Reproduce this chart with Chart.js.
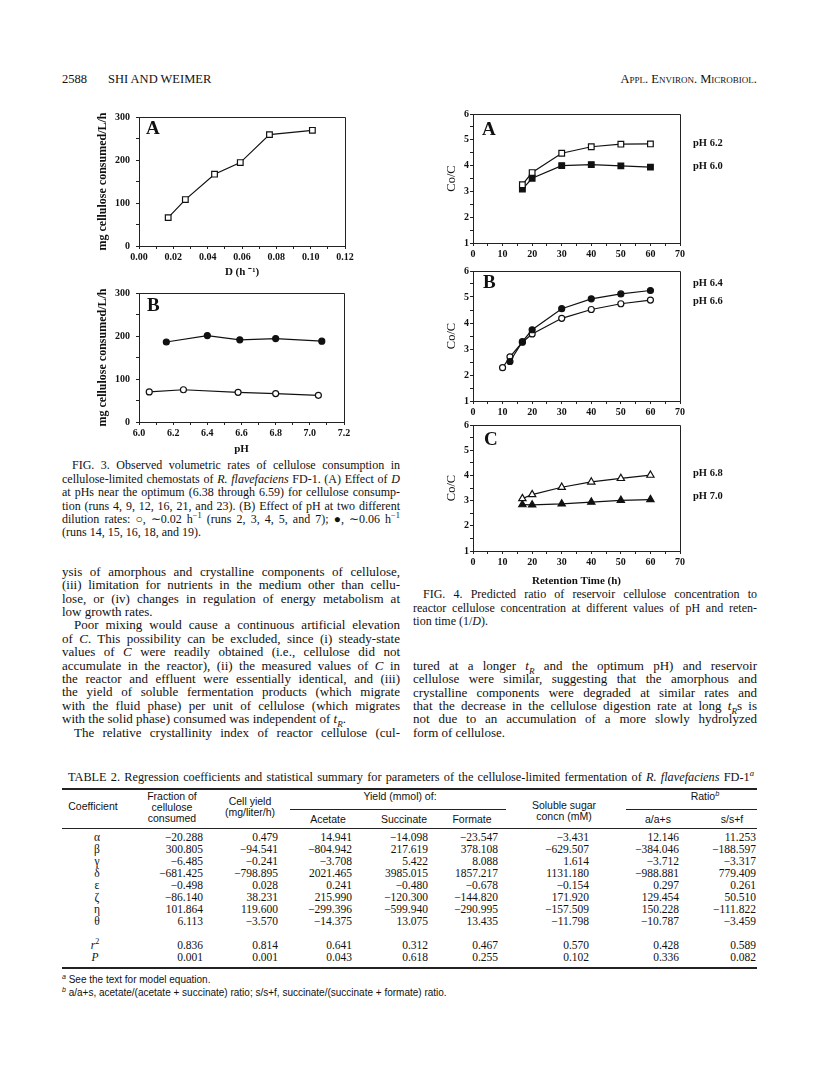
<!DOCTYPE html>
<html><head><meta charset="utf-8">
<script src="https://cdn.jsdelivr.net/npm/chart.js@4.4.0/dist/chart.umd.min.js"></script>
<style>
html,body{margin:0;padding:0;background:#fff;}
#page{position:relative;width:816px;height:1075px;overflow:hidden;background:#fff;font-family:"Liberation Serif","Times New Roman",serif;color:#111;}
.ln{position:absolute;white-space:nowrap;line-height:1;}
.ln sup,.ln sub{font-size:0.7em;line-height:0;}
.rule{position:absolute;background:#222;}
canvas{position:absolute;}
</style></head><body><div id="page"></div>
<script>
// ---------------- DATA ----------------
// Fig. 3A: dilution rate vs cellulose consumed
const fig3aDilution = [0.017, 0.027, 0.044, 0.059, 0.076, 0.101];
const fig3aRate     = [66, 108, 167, 194, 259, 269];
// Fig. 3B: pH effect at two dilution rates
const fig3bPhLowD    = [6.06, 6.26, 6.58, 6.80, 7.05];   // open circles, ~0.02 h-1
const fig3bRateLowD  = [70, 75, 69, 66, 62];
const fig3bPhHighD   = [6.16, 6.40, 6.59, 6.80, 7.07];   // filled circles, ~0.06 h-1
const fig3bRateHighD = [186, 201, 191, 194, 188];
// Fig. 4: Co/C vs retention time
const fig4Time      = [16.7, 20, 30, 40, 50, 60];
const fig4aPh62     = [3.26, 3.73, 4.48, 4.73, 4.83, 4.84];
const fig4aPh60     = [3.09, 3.51, 4.00, 4.04, 3.99, 3.94];
const fig4bTime64   = [12.5, 16.7, 20, 30, 40, 50, 60];
const fig4bPh64     = [2.52, 3.28, 3.74, 4.55, 4.93, 5.12, 5.25];
const fig4bTime66   = [10, 12.5, 16.7, 20, 30, 40, 50, 60];
const fig4bPh66     = [2.28, 2.70, 3.26, 3.58, 4.18, 4.52, 4.74, 4.88];
const fig4cPh68     = [3.08, 3.24, 3.53, 3.74, 3.88, 4.01];
const fig4cPh70     = [2.84, 2.83, 2.87, 2.94, 3.01, 3.04];
const fig4aNames = ['pH 6.2', 'pH 6.0'];
const fig4bNames = ['pH 6.4', 'pH 6.6'];
const fig4cNames = ['pH 6.8', 'pH 7.0'];
const panelLetters = ['A', 'B', 'A', 'B', 'C'];
const fig3YTitle = 'mg cellulose consumed/L/h';
const fig3aXTitle = 'D (h \u207B\u00B9)';
const fig3bXTitle = 'pH';
const fig4YTitle = 'Co/C';
const fig4XTitle = 'Retention Time (h)';

// Table 2
const tableCoef      = ['α','β','γ','δ','ε','ζ','η','θ','<i>r</i><sup>2</sup>','<i>P</i>'];
const tableFraction  = ['−20.288','300.805','−6.485','−681.425','−0.498','−86.140','101.864','6.113','0.836','0.001'];
const tableCellYield = ['0.479','−94.541','−0.241','−798.895','0.028','38.231','119.600','−3.570','0.814','0.001'];
const tableAcetate   = ['14.941','−804.942','−3.708','2021.465','0.241','215.990','−299.396','−14.375','0.641','0.043'];
const tableSuccinate = ['−14.098','217.619','5.422','3985.015','−0.480','−120.300','−599.940','13.075','0.312','0.618'];
const tableFormate   = ['−23.547','378.108','8.088','1857.217','−0.678','−144.820','−290.995','13.435','0.467','0.255'];
const tableSugar     = ['−3.431','−629.507','1.614','1131.180','−0.154','171.920','−157.509','−11.798','0.570','0.102'];
const tableRatioAS   = ['12.146','−384.046','−3.712','−988.881','0.297','129.454','150.228','−10.787','0.428','0.336'];
const tableRatioSF   = ['11.253','−188.597','−3.317','779.409','0.261','50.510','−111.822','−3.459','0.589','0.082'];

// ---------------- PAGE TEXT HELPERS ----------------
const page = document.getElementById('page');
const SERIF = '"Liberation Serif","Times New Roman",serif';
const NARROW = '"Liberation Sans Narrow","Arial Narrow","Liberation Sans",sans-serif';
function addText(html, x, y, fs, o) {
  o = o || {};
  const d = document.createElement('div');
  d.className = 'ln';
  d.innerHTML = html;
  d.style.fontSize = fs + 'px';
  if (o.family) d.style.fontFamily = o.family;
  if (o.bold) d.style.fontWeight = 'bold';
  if (o.sc) d.style.fontVariant = 'small-caps';
  if (o.ls) d.style.letterSpacing = o.ls + 'px';
  d.style.top = (y - 0.55 * fs) + 'px';
  d.style.left = '0px';
  page.appendChild(d);
  const w = d.getBoundingClientRect().width;
  if (o.justify) {
    const n = (d.textContent.match(/ /g) || []).length;
    if (n) d.style.wordSpacing = ((o.justify - w) / n) + 'px';
    d.style.left = x + 'px';
  } else if (o.align === 'right') d.style.left = (x - w) + 'px';
  else if (o.align === 'center') d.style.left = (x - w / 2) + 'px';
  else d.style.left = x + 'px';
  return d;
}
function rule(x1, x2, y, h) {
  const r = document.createElement('div');
  r.className = 'rule';
  r.style.left = x1 + 'px'; r.style.width = (x2 - x1) + 'px';
  r.style.top = y + 'px'; r.style.height = (h || 1) + 'px';
  page.appendChild(r);
}
function paragraph(lines, x, w, y0, dy, fs, indent) {
  lines.forEach((l, i) => {
    const txt = typeof l === 'string' ? l : l.t;
    const last = typeof l !== 'string' && l.last;
    const ind = (typeof l !== 'string' && l.indent) ? indent : 0;
    addText(txt, x + ind, y0 + i * dy, fs, last ? {} : {justify: w - ind});
  });
}

// Running head
addText('2588', 62, 80, 12.5);
addText('SHI AND WEIMER', 108, 80, 12.5);
addText('Appl. Environ. Microbiol.', 757, 80, 12.5, {sc: true, align: 'right'});

// Fig 3 caption
paragraph([
  {t: 'FIG. 3. Observed volumetric rates of cellulose consumption in', indent: true},
  'cellulose-limited chemostats of <i>R. flavefaciens</i> FD-1. (A) Effect of <i>D</i>',
  'at pHs near the optimum (6.38 through 6.59) for cellulose consump-',
  'tion (runs 4, 9, 12, 16, 21, and 23). (B) Effect of pH at two different',
  'dilution rates: ○, ∼0.02 h<sup>−1</sup> (runs 2, 3, 4, 5, and 7); ●, ∼0.06 h<sup>−1</sup>',
  {t: '(runs 14, 15, 16, 18, and 19).', last: true}
], 62, 338, 466, 13.4, 12, 10);

// Left body text
paragraph([
  'ysis of amorphous and crystalline components of cellulose,',
  '(iii) limitation for nutrients in the medium other than cellu-',
  'lose, or (iv) changes in regulation of energy metabolism at',
  {t: 'low growth rates.', last: true},
  {t: 'Poor mixing would cause a continuous artificial elevation', indent: true},
  'of <i>C</i>. This possibility can be excluded, since (i) steady-state',
  'values of <i>C</i> were readily obtained (i.e., cellulose did not',
  'accumulate in the reactor), (ii) the measured values of <i>C</i> in',
  'the reactor and effluent were essentially identical, and (iii)',
  'the yield of soluble fermentation products (which migrate',
  'with the fluid phase) per unit of cellulose (which migrates',
  {t: 'with the solid phase) consumed was independent of <i>t<sub>R</sub></i>.', last: true},
  {t: 'The relative crystallinity index of reactor cellulose (cul-', indent: true}
], 62, 338, 572, 13.4, 13, 12);

// Fig 4 caption
paragraph([
  {t: 'FIG. 4. Predicted ratio of reservoir cellulose concentration to', indent: true},
  'reactor cellulose concentration at different values of pH and reten-',
  {t: 'tion time (1/<i>D</i>).', last: true}
], 413, 344, 595, 13.4, 12, 10);

// Right body text
paragraph([
  'tured at a longer <i>t<sub>R</sub></i> and the optimum pH) and reservoir',
  'cellulose were similar, suggesting that the amorphous and',
  'crystalline components were degraded at similar rates and',
  'that the decrease in the cellulose digestion rate at long <i>t<sub>R</sub></i>s is',
  'not due to an accumulation of a more slowly hydrolyzed',
  {t: 'form of cellulose.', last: true}
], 413, 344, 666, 13.4, 13, 12);

// Table 2
addText('TABLE 2. Regression coefficients and statistical summary for parameters of the cellulose-limited fermentation of <i>R. flavefaciens</i> FD-1<sup><i>a</i></sup>', 68, 778, 12.3, {justify: 686});
rule(62, 757, 788, 1.5);
const hf = 10.5;
addText('Coefficient', 93, 807, hf, {family: NARROW, align: 'center'});
addText('Fraction of', 172, 797, hf, {family: NARROW, align: 'center'});
addText('cellulose', 172, 808, hf, {family: NARROW, align: 'center'});
addText('consumed', 172, 819, hf, {family: NARROW, align: 'center'});
addText('Cell yield', 250, 802, hf, {family: NARROW, align: 'center'});
addText('(mg/liter/h)', 250, 813, hf, {family: NARROW, align: 'center'});
addText('Yield (mmol) of:', 400, 797, hf, {family: NARROW, align: 'center'});
rule(290, 506, 809, 1);
addText('Acetate', 328, 820, hf, {family: NARROW, align: 'center'});
addText('Succinate', 404, 820, hf, {family: NARROW, align: 'center'});
addText('Formate', 472, 820, hf, {family: NARROW, align: 'center'});
addText('Soluble sugar', 564, 806, hf, {family: NARROW, align: 'center'});
addText('concn (mM)', 564, 817, hf, {family: NARROW, align: 'center'});
addText('Ratio<sup><i>b</i></sup>', 705, 797, hf, {family: NARROW, align: 'center'});
rule(626, 757, 809, 1);
addText('a/a+s', 658, 820, hf, {family: NARROW, align: 'center'});
addText('s/s+f', 732, 820, hf, {family: NARROW, align: 'center'});
rule(62, 757, 828, 1);
const colRight = [203, 278, 352, 428, 498, 589, 679, 756];
const cols = [tableFraction, tableCellYield, tableAcetate, tableSuccinate, tableFormate, tableSugar, tableRatioAS, tableRatioSF];
const rowY = [838, 850, 862, 874, 886, 898, 910, 922, 946, 958];
tableCoef.forEach((c, i) => {
  addText(c, i < 8 ? 97 : 95, rowY[i], 11.5, {align: 'center'});
  cols.forEach((col, j) => addText(col[i], colRight[j], rowY[i], 11.5, {align: 'right'}));
});
rule(62, 757, 967, 1.5);
addText('<sup><i>a</i></sup> See the text for model equation.', 62, 980, 10, {family: NARROW});
addText('<sup><i>b</i></sup> a/a+s, acetate/(acetate + succinate) ratio; s/s+f, succinate/(succinate + formate) ratio.', 62, 993, 10, {family: NARROW});

// ---------------- CHARTS ----------------
Chart.defaults.font.family = SERIF;
Chart.defaults.color = '#111';
Chart.defaults.animation = false;

const annotPlugin = {
  id: 'annot',
  beforeDatasetsDraw(chart) {
    const {ctx, chartArea: a} = chart;
    ctx.save();
    ctx.strokeStyle = '#222'; ctx.lineWidth = 1;
    ctx.beginPath();
    ctx.moveTo(Math.round(a.left) + 0.5, Math.round(a.top) + 0.5);
    ctx.lineTo(Math.round(a.right) + 0.5, Math.round(a.top) + 0.5);
    ctx.lineTo(Math.round(a.right) + 0.5, Math.round(a.bottom) + 0.5);
    ctx.stroke();
    ctx.restore();
  },
  afterDraw(chart, args, opts) {
    const {ctx, chartArea: a, scales} = chart;
    ctx.save();
    ctx.fillStyle = '#111'; ctx.textBaseline = 'middle'; ctx.textAlign = 'left';
    if (opts.letter) {
      ctx.font = 'bold 19px ' + SERIF;
      ctx.fillText(opts.letter, a.left + opts.letterDx, a.top + opts.letterDy);
    }
    (opts.labels || []).forEach(l => {
      ctx.font = 'bold 10.5px ' + SERIF;
      ctx.fillText(l.text, a.right + opts.labelDx, scales.y.getPixelForValue(l.at));
    });
    ctx.restore();
  }
};

const tickFont = {family: SERIF, weight: 'bold', size: 10};
function axis(min, max, step, fmt, pad, title) {
  const o = {
    type: 'linear', min: min, max: max,
    ticks: {stepSize: step, autoSkip: false, maxRotation: 0, minRotation: 0, color: '#111', font: tickFont, padding: pad, callback: fmt},
    grid: {drawOnChartArea: false, drawTicks: true, tickLength: 3, color: '#222', lineWidth: 1},
    border: {display: true, color: '#222', width: 1}
  };
  if (title) o.title = Object.assign({display: true, color: '#111'}, title);
  return o;
}
function series(xs, ys, style, r, filled) {
  return {
    data: xs.map((x, i) => ({x: x, y: ys[i]})),
    borderColor: '#111', borderWidth: 1.2, tension: 0, fill: false, clip: false,
    pointStyle: style, pointRadius: r, pointHoverRadius: r,
    pointBackgroundColor: filled ? '#111' : '#fff', pointBorderColor: '#111', pointBorderWidth: 1.2
  };
}
function makeChart(area, m, datasets, xAxis, yAxis, annot) {
  const c = document.createElement('canvas');
  const W = m.left + (area.R - area.L) + m.right;
  const H = m.top + (area.B - area.T) + m.bottom;
  c.width = W; c.height = H;
  c.style.left = (area.L - m.left) + 'px'; c.style.top = (area.T - m.top) + 'px';
  c.style.width = W + 'px'; c.style.height = H + 'px';
  page.appendChild(c);
  xAxis.afterFit = s => { s.height = m.bottom; };
  yAxis.afterFit = s => { s.width = m.left; };
  return new Chart(c, {
    type: 'line',
    data: {datasets: datasets},
    plugins: [annotPlugin],
    options: {
      responsive: false, animation: false, devicePixelRatio: 1,
      layout: {padding: {left: 0, top: m.top, right: m.right, bottom: 0}},
      scales: {x: xAxis, y: yAxis},
      plugins: {legend: {display: false}, tooltip: {enabled: false}, annot: annot}
    }
  });
}

const fmtEvery = (mult, major, dec) => v => {
  const k = Math.round(v * mult);
  return k % major === 0 ? (k / mult).toFixed(dec) : '';
};
const fig3Title = {text: fig3YTitle, font: {family: SERIF, weight: 'bold', size: 12}, padding: {top: 5.5, bottom: 0}};
const fig4Title = {text: fig4YTitle, font: {family: SERIF, size: 12.5}, padding: {top: 4.5, bottom: 0}};

// Fig 3A
makeChart({L: 139, R: 345, T: 113, B: 246}, {left: 49, top: 8, right: 16, bottom: 33},
  [series(fig3aDilution, fig3aRate, 'rect', 4, false)],
  axis(0, 0.12, 0.01, fmtEvery(100, 2, 2), 2, {text: fig3aXTitle, font: {family: SERIF, weight: 'bold', size: 11}, padding: {top: 0, bottom: 0}}),
  axis(0, 300, 50, fmtEvery(1, 100, 0), 6, fig3Title),
  {letter: panelLetters[0], letterDx: 7, letterDy: 12});

// Fig 3B
makeChart({L: 139, R: 344, T: 289, B: 422}, {left: 49, top: 8, right: 16, bottom: 34},
  [series(fig3bPhHighD, fig3bRateHighD, 'circle', 3, true),
   series(fig3bPhLowD, fig3bRateLowD, 'circle', 3, false)],
  axis(6.0, 7.2, 0.1, fmtEvery(10, 2, 1), 2, {text: fig3bXTitle, font: {family: SERIF, weight: 'bold', size: 11}, padding: {top: 0, bottom: 0}}),
  axis(0, 300, 50, fmtEvery(1, 100, 0), 6, fig3Title),
  {letter: panelLetters[1], letterDx: 8, letterDy: 13});

const fig4Y = () => axis(1, 6, 0.5, fmtEvery(2, 2, 0), 1, fig4Title);
const fig4X = (t) => axis(0, 70, 5, fmtEvery(1, 10, 0), 2, t);

// Fig 4A
makeChart({L: 473, R: 680, T: 114, B: 243}, {left: 33, top: 8, right: 70, bottom: 19},
  [series(fig4Time, fig4aPh62, 'rect', 4, false),
   series(fig4Time, fig4aPh60, 'rect', 4, true)],
  fig4X(null), fig4Y(),
  {letter: panelLetters[2], letterDx: 9, letterDy: 16, labelDx: 13,
   labels: [{text: fig4aNames[0], at: 4.88}, {text: fig4aNames[1], at: 3.98}]});

// Fig 4B
makeChart({L: 473, R: 680, T: 271, B: 401}, {left: 33, top: 7, right: 70, bottom: 18},
  [series(fig4bTime64, fig4bPh64, 'circle', 3, true),
   series(fig4bTime66, fig4bPh66, 'circle', 3, false)],
  fig4X(null), fig4Y(),
  {letter: panelLetters[3], letterDx: 10, letterDy: 12, labelDx: 13,
   labels: [{text: fig4bNames[0], at: 5.54}, {text: fig4bNames[1], at: 4.85}]});

// Fig 4C
makeChart({L: 473, R: 680, T: 423, B: 551}, {left: 33, top: 5, right: 70, bottom: 37},
  [series(fig4Time, fig4cPh68, 'triangle', 4.2, false),
   series(fig4Time, fig4cPh70, 'triangle', 4.2, true)],
  fig4X({text: fig4XTitle, font: {family: SERIF, weight: 'bold', size: 11}, padding: {top: 0, bottom: 0}}), fig4Y(),
  {letter: panelLetters[4], letterDx: 11, letterDy: 15, labelDx: 13,
   labels: [{text: fig4cNames[0], at: 4.09}, {text: fig4cNames[1], at: 3.19}]});
</script>
</body></html>
